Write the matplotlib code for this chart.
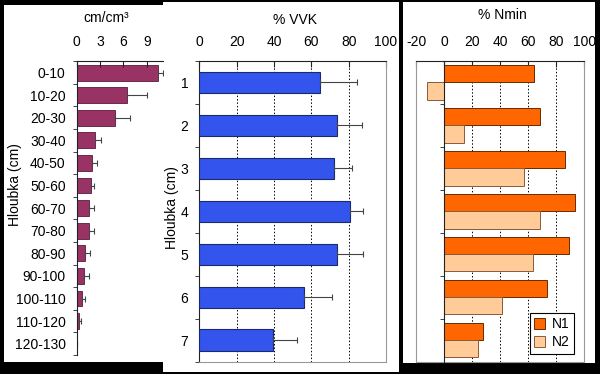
import matplotlib
matplotlib.use("Agg")
import matplotlib.pyplot as plt
from matplotlib.patches import Rectangle, Patch
import numpy as np

plt.rcParams['font.family'] = ['Liberation Sans', 'DejaVu Sans']
plt.rcParams['font.size'] = 10
plt.rcParams['axes.unicode_minus'] = False

# ---- data ----
depth_labels = ["0-10", "10-20", "20-30", "30-40", "40-50", "50-60", "60-70",
                "70-80", "80-90", "90-100", "100-110", "110-120", "120-130"]
root_density = [10.45, 6.5, 4.9, 2.3, 2.0, 1.85, 1.6, 1.55, 1.07, 0.98, 0.64, 0.26, 0.05]
root_err = [0.6, 2.6, 2.0, 0.8, 0.65, 0.4, 0.6, 0.7, 0.6, 0.6, 0.38, 0.3, 0.05]
root_ticks = [0, 3, 6, 9]

vvk_labels = ["1", "2", "3", "4", "5", "6", "7"]
vvk_values = [64.8, 73.6, 72.3, 80.9, 73.8, 56.1, 39.3]
vvk_err = [19.5, 13.4, 9.7, 7.0, 13.7, 15.2, 12.9]
pct_ticks = [0, 20, 40, 60, 80, 100]

nmin_n1 = [63.8, 68.4, 86.4, 93.1, 89.3, 73.1, 27.4]
nmin_n2 = [-12.1, 14.3, 56.7, 68.6, 63.6, 41.4, 23.8]
nmin_ticks = [-20, 0, 20, 40, 60, 80, 100]
series_names = ["N1", "N2"]

W, H = 600, 374
fig = plt.figure(figsize=(W / 100, H / 100), dpi=100, facecolor="black")

def rect(x0, y0, x1, y1):
    return [x0 / W, 1 - y1 / H, (x1 - x0) / W, (y1 - y0) / H]

# white panels
for (x0, y0, x1, y1) in [(4, 5, 163, 362), (163, 2, 399, 372), (403, 2, 595, 363)]:
    fig.patches.append(Rectangle((x0 / W, 1 - y1 / H), (x1 - x0) / W, (y1 - y0) / H,
                                 transform=fig.transFigure, facecolor="white",
                                 edgecolor="none", zorder=-5))

spine_dark = "#222222"
frame_gray = "#999999"
err_col = "#444444"

def style_common(ax, n):
    ax.set_facecolor("none")
    ax.xaxis.tick_top()
    ax.tick_params(axis="x", which="major", direction="in", length=4, pad=9,
                   color=spine_dark, labelsize=10)
    ax.set_ylim(n, 0)
    ax.set_yticks(np.arange(n) + 0.5)
    ax.set_yticks(np.arange(n + 1), minor=True)
    ax.tick_params(axis="y", which="major", length=0, pad=8, labelsize=10)
    ax.tick_params(axis="y", which="minor", length=3, direction="out", color=spine_dark)

# ---- panel 1 ----
ax1 = fig.add_axes(rect(76.7, 61.3, 163, 355))
n1 = len(depth_labels)
pos1 = np.arange(n1) + 0.5
ax1.barh(pos1, root_density, height=0.7, color="#993366", edgecolor="#5a1a3a", linewidth=0.6,
         xerr=[np.zeros(n1), root_err], error_kw=dict(ecolor=err_col, elinewidth=0.8, capsize=2.5, capthick=0.8))
style_common(ax1, n1)
ax1.set_yticklabels(depth_labels)
ax1.set_xlim(0, (163 - 76.7) / 7.78)
ax1.set_xticks(root_ticks)
for s in ["right", "bottom"]:
    ax1.spines[s].set_visible(False)
for s in ["left", "top"]:
    ax1.spines[s].set_color(spine_dark)
    ax1.spines[s].set_linewidth(0.8)
fig.text(106 / W, 1 - 18 / H, "cm/cm³", ha="center", va="center", fontsize=10)
fig.text(15 / W, 1 - 185 / H, "Hloubka (cm)", ha="center", va="center", rotation=90, fontsize=10)

# ---- panel 2 ----
ax2 = fig.add_axes(rect(199.3, 61, 386, 361.7))
n2 = len(vvk_labels)
pos2 = np.arange(n2) + 0.5
ax2.barh(pos2, vvk_values, height=0.5, color="#3355ee", edgecolor="#1a2a6a", linewidth=0.8,
         xerr=[np.zeros(n2), vvk_err], error_kw=dict(ecolor=err_col, elinewidth=0.8, capsize=2.5, capthick=0.8),
         zorder=3)
style_common(ax2, n2)
ax2.set_yticklabels(vvk_labels)
ax2.set_xlim(0, 100)
ax2.set_xticks(pct_ticks)
for t in pct_ticks[1:-1]:
    ax2.axvline(t, color="black", linestyle=(0, (1.5, 2)), linewidth=0.7, zorder=1)
for s in ["right", "bottom"]:
    ax2.spines[s].set_color(frame_gray)
    ax2.spines[s].set_linewidth(0.8)
for s in ["left", "top"]:
    ax2.spines[s].set_color(spine_dark)
    ax2.spines[s].set_linewidth(0.8)
fig.text(295 / W, 1 - 20 / H, "% VVK", ha="center", va="center", fontsize=10)
fig.text(172 / W, 1 - 208 / H, "Hloubka (cm)", ha="center", va="center", rotation=90, fontsize=10)

# ---- panel 3 ----
ax3 = fig.add_axes(rect(416.3, 61, 584.3, 361.7))
n3 = len(nmin_n1)
pos3 = np.arange(n3) + 0.5
bh = 0.4
ax3.barh(pos3 - bh / 2, nmin_n1, height=bh, color="#ff6600", edgecolor="#6a2a00", linewidth=0.7,
         label=series_names[0], zorder=3)
ax3.barh(pos3 + bh / 2, nmin_n2, height=bh, color="#ffcc99", edgecolor="#8a5a3a", linewidth=0.7,
         label=series_names[1], zorder=3)
style_common(ax3, n3)
ax3.set_yticklabels([])
ax3.set_xlim(-20, 100)
ax3.set_xticks(nmin_ticks)
for t in nmin_ticks[2:-1]:
    ax3.axvline(t, color="black", linestyle=(0, (1.5, 2)), linewidth=0.7, zorder=1)
ax3.spines["left"].set_position(("data", 0))
ax3.spines["left"].set_color(spine_dark)
ax3.spines["left"].set_linewidth(0.8)
ax3.spines["left"].set_zorder(4)
ax3.axvline(-20, color=frame_gray, linewidth=0.8, clip_on=False)
for s in ["right", "bottom"]:
    ax3.spines[s].set_color(frame_gray)
    ax3.spines[s].set_linewidth(0.8)
ax3.spines["top"].set_color(spine_dark)
ax3.spines["top"].set_linewidth(0.8)
fig.text(502 / W, 1 - 15 / H, "% Nmin", ha="center", va="center", fontsize=10)
handles = [Patch(facecolor="#ff6600", edgecolor="#6a2a00", linewidth=0.7),
           Patch(facecolor="#ffcc99", edgecolor="#8a5a3a", linewidth=0.7)]
leg = ax3.legend(handles, series_names, loc="upper left",
                 bbox_to_anchor=(530 / W, 1 - 313 / H), bbox_transform=fig.transFigure,
                 fancybox=False, frameon=True, edgecolor="black", framealpha=1,
                 handlelength=0.8, handleheight=0.8, handletextpad=0.5,
                 borderpad=0.3, labelspacing=0.3, borderaxespad=0, fontsize=10)
leg.get_frame().set_linewidth(0.8)

fig.savefig("out.png", dpi=100, facecolor="black")
